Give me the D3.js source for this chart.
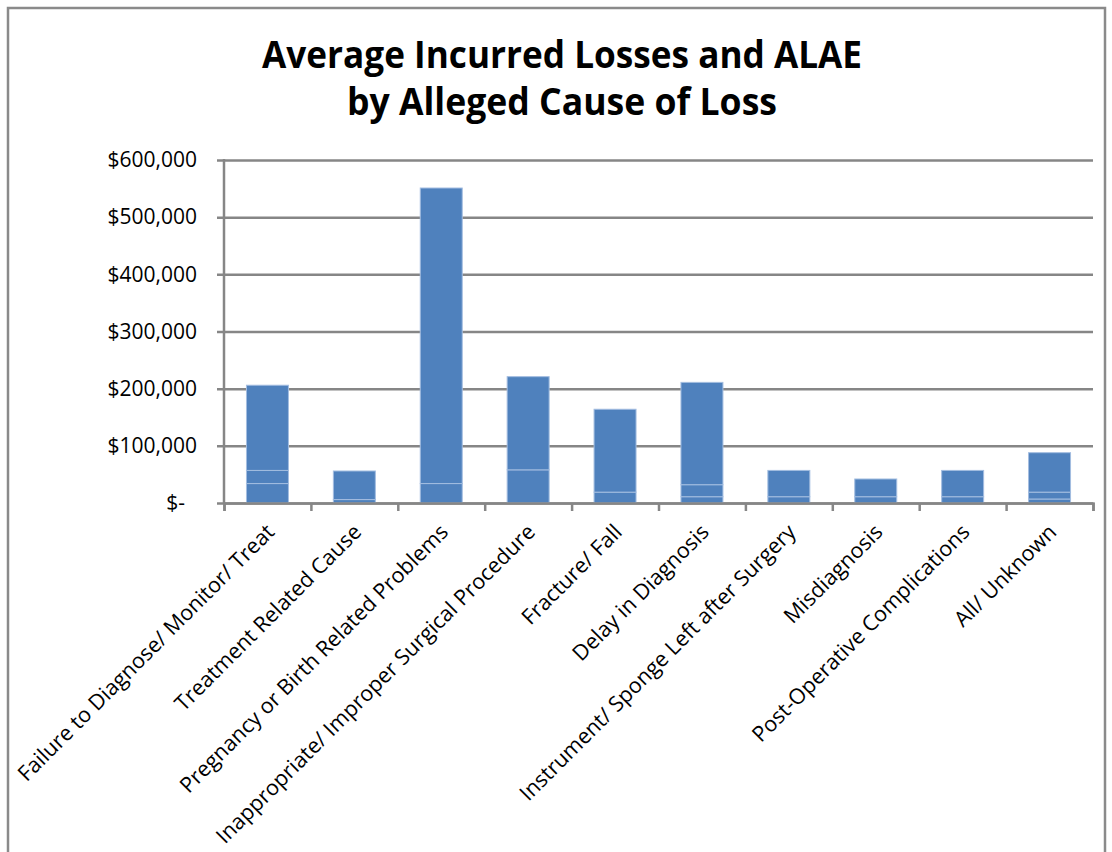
<!DOCTYPE html>
<meta charset="utf-8">
<style>
  body { margin: 0; background: #fff; }
  text { font-family: "Open Sans", sans-serif; fill: #000; }
</style>
<svg width="1112" height="852"></svg>
<script src="https://d3js.org/d3.v7.min.js"></script>
<script>

// chart values
var categories = [
  "Failure to Diagnose/ Monitor/ Treat",
  "Treatment Related Cause",
  "Pregnancy or Birth Related Problems",
  "Inappropriate/ Improper Surgical Procedure",
  "Fracture/ Fall",
  "Delay in Diagnosis",
  "Instrument/ Sponge Left after Surgery",
  "Misdiagnosis",
  "Post-Operative Complications",
  "All/ Unknown"
];

// the bars are stacks of three pieces in the same colour
var part1 = [34000, 6000, 34000, 0, 19000, 11000, 11000, 11000, 11000, 7000],
    part2 = [23000, 50000, 0, 58000, 0, 21000, 46000, 31000, 46000, 12000],
    part3 = [149000, 0, 517000, 163000, 145000, 179000, 0, 0, 0, 69000];

var yTicks = [0, 100000, 200000, 300000, 400000, 500000, 600000];
var titleLines = ["Average Incurred Losses and ALAE", "by Alleged Cause of Loss"];

var svg = d3.select("svg"),
    plotLeft = 224, plotRight = 1093, plotTop = 160, plotBottom = 503,
    grey = "#868686";

var rows = categories.map(function(c, i) {
  return { cat: c, p1: part1[i], p2: part2[i], p3: part3[i] };
});

var stack = d3.stack().keys(["p1", "p2", "p3"])(rows);

var x = d3.scaleBand()
    .domain(categories)
    .range([plotLeft, plotRight])
    .paddingInner(0.517)
    .paddingOuter(0.2585);

var y = d3.scaleLinear()
    .domain([0, 600000])
    .range([plotBottom, plotTop]);

// outer frame
svg.append("rect")
    .attr("x", 8).attr("y", 8)
    .attr("width", 1097).attr("height", 900)
    .attr("fill", "none")
    .attr("stroke", "#8a8a8a")
    .attr("stroke-width", 2.5);

// title
svg.selectAll(".title")
  .data(titleLines)
  .enter().append("text")
    .attr("class", "title")
    .attr("x", 562)
    .attr("y", function(d, i) { return 68 + i * 47; })
    .attr("text-anchor", "middle")
    .attr("textLength", function(d, i) { return i == 0 ? 600 : 430; })
    .attr("lengthAdjust", "spacingAndGlyphs")
    .style("font-size", "37px")
    .style("font-weight", "bold")
    .text(function(d) { return d; });

// gridlines + y labels
var yAxis = svg.append("g")
    .attr("transform", "translate(" + plotRight + ",0)")
    .call(d3.axisLeft(y)
      .tickValues(yTicks)
      .tickSize(plotRight - plotLeft + 7)
      .tickPadding(20)
      .tickFormat(function(d) { return d == 0 ? "$-" : "$" + d3.format(",")(d); }));

yAxis.select(".domain").remove();
yAxis.selectAll("line").attr("stroke", grey).attr("stroke-width", 2.5);
yAxis.selectAll("text")
    .style("font-size", "21px")
    .attr("dx", function(d) { return d == 0 ? -12 : 0; });

// bars
svg.append("g")
  .selectAll("g")
  .data(stack)
  .enter().append("g")
  .selectAll("rect")
  .data(function(d) { return d; })
  .enter().append("rect")
    .attr("x", function(d) { return x(d.data.cat); })
    .attr("y", function(d) { return y(d[1]); })
    .attr("width", x.bandwidth())
    .attr("height", function(d) { return y(d[0]) - y(d[1]); })
    .attr("fill", "#4f81bd")
    .attr("stroke", function(d) { return d[1] > d[0] ? "#a3bde0" : "none"; })
    .attr("stroke-width", 1);

// y axis line
svg.append("line")
    .attr("x1", plotLeft).attr("x2", plotLeft)
    .attr("y1", plotTop - 1).attr("y2", plotBottom)
    .attr("stroke", grey)
    .attr("stroke-width", 2.5);

// x axis: ticks on category boundaries
var xEdges = d3.scaleLinear().domain([0, categories.length]).range([plotLeft, plotRight]);
var xAxis = svg.append("g")
    .attr("transform", "translate(0," + plotBottom + ")")
    .call(d3.axisBottom(xEdges)
      .tickValues(d3.range(categories.length + 1))
      .tickSize(8)
      .tickFormat(""));
xAxis.selectAll("line, path").attr("stroke", grey).attr("stroke-width", 2.5);

// category labels, turned 45 degrees
svg.selectAll(".cat")
  .data(categories)
  .enter().append("text")
    .attr("class", "cat")
    .attr("transform", function(d) {
      return "translate(" + (x(d) + x.bandwidth() / 2 + 3) + "," + (plotBottom + 25) + ") rotate(-45)";
    })
    .attr("text-anchor", "end")
    .attr("dy", "0.35em")
    .style("font-size", "21.5px")
    .text(function(d) { return d; });

</script>
